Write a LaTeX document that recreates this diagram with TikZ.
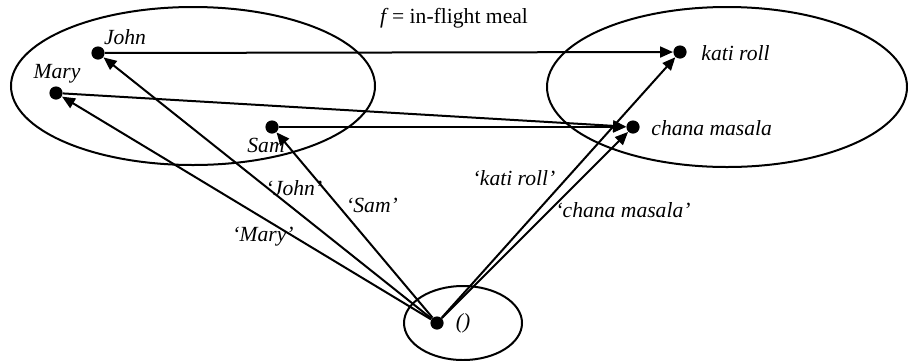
\documentclass[tikz,border=0pt]{standalone}
\usepackage{fontspec}
\setmainfont{Liberation Serif}
\usetikzlibrary{arrows.meta}
\begin{document}
\begin{tikzpicture}[x=0.5pt,y=-0.5pt,
  setline/.style={line width=1pt},
  dot/.style={circle,fill=black,inner sep=0pt,minimum size=6.6pt},
  lbl/.style={font=\fontsize{10.8}{12}\selectfont\itshape,inner sep=0pt},
  arr/.style={line width=1pt,-{Triangle[length=6.5pt,width=5.5pt]}}]
\useasboundingbox (0,0) rectangle (908,360);
% sets
\draw[setline] (193,86) ellipse [x radius=182, y radius=79];
\draw[setline] (727,87) ellipse [x radius=180, y radius=80];
\draw[setline] (463,323) ellipse [x radius=59, y radius=37];
% elements
\node[dot] (john) at (98,53) {};
\node[dot] (mary) at (56,93) {};
\node[dot] (sam) at (272,127) {};
\node[dot] (kati) at (680,52) {};
\node[dot] (chana) at (633,127) {};
\node[dot] (unit) at (437,323) {};
\node[lbl] (tjohn) at (125,37) {John};
\node[lbl] (tmary) at (57,74) {Mary};
\node[lbl] (tsam) at (266,145) {Sam};
\node[lbl,anchor=west] (tkati) at (701,53) {kati roll};
\node[lbl,anchor=west] (tchana) at (651,128) {chana masala};
\node[lbl] (tunit) at (463,323) {()};
\node[font=\fontsize{10.8}{12}\selectfont,inner sep=0pt] (title) at (454,18) {\textit{f}\,= in-flight meal};
% function f
\draw[arr] (john) -- (kati);
\draw[arr] (mary) -- (chana);
\draw[arr] (sam) -- (chana);
% names
\draw[arr] (unit) -- (john);
\draw[arr] (unit) -- (mary);
\draw[arr] (unit) -- (sam);
\draw[arr] (unit) -- (kati);
\draw[arr] (unit) -- (chana);
\node[lbl] (ljohn) at (294,188) {`John'};
\node[lbl] (lsam) at (372,205) {`Sam'};
\node[lbl] (lmary) at (263,237) {`Mary'};
\node[lbl] (lkati) at (514,178) {`kati roll'};
\node[lbl] (lchana) at (623,210) {`chana masala'};
\end{tikzpicture}
\end{document}
